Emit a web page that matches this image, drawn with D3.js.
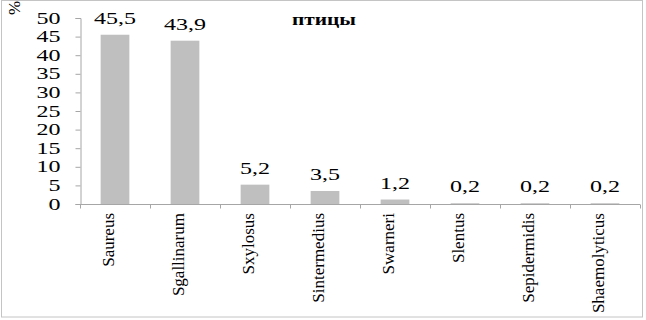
<!DOCTYPE html>
<html>
<head>
<meta charset="utf-8">
<script src="https://cdn.jsdelivr.net/npm/d3@7"></script>
<style>
    body { margin: 0; background: #fff; }
    svg text { font-family: "Liberation Serif", "Times New Roman", serif; fill: #000; }
</style>
</head>
<body>
<svg id="chart" width="646" height="320"></svg>
<script>

// Data
const categories = ['Saureus', 'Sgallinarum', 'Sxylosus', 'Sintermedius', 'Swarneri', 'Slentus', 'Sepidermidis', 'Shaemolyticus'];
const values = [45.5, 43.9, 5.2, 3.5, 1.2, 0.2, 0.2, 0.2];
const yTicks = [0, 5, 10, 15, 20, 25, 30, 35, 40, 45, 50];
const title = 'птицы';
const yLabel = '%';

const svg = d3.select('#chart');

// horizontal text in the picture is stretched sideways
const stretch = 1.5;

// Outer frame
svg.append('rect')
    .attr('x', 1.5)
    .attr('y', 0.5)
    .attr('width', 641)
    .attr('height', 316.5)
    .attr('fill', 'none')
    .attr('stroke', '#c4c4c4');

/* Scales */
let xScale = d3.scaleBand()
    .domain(categories)
    .range([80, 640]);

let yScale = d3.scaleLinear()
    .domain([0, 50])
    .range([204, 18]);

const barWidth = xScale.bandwidth() * 0.41;

/* Y axis */
const yAxis = svg.append('g')
    .attr('transform', 'translate(80.5,0)')
    .call(d3.axisLeft(yScale)
        .tickValues(yTicks)
        .tickSize(5)
        .tickFormat(d3.format('d'))
    );

yAxis.select('.domain').attr('stroke', '#a6a6a6');
yAxis.selectAll('.tick line').attr('stroke', '#a6a6a6');
yAxis.selectAll('.tick text')
    .attr('x', -20 / stretch)
    .attr('transform', `scale(${stretch},1)`)
    .style('font-size', '16px');

/* X axis */
const xAxis = svg.append('g')
    .attr('transform', 'translate(0,204.5)');

xAxis.append('line')
    .attr('x1', 80)
    .attr('x2', 640)
    .attr('stroke', '#a6a6a6');

// ticks between categories
let tickPos = categories.map(c => xScale(c)).concat([xScale.range()[1]]);
xAxis.selectAll('line.tick')
    .data(tickPos)
    .join('line')
    .attr('class', 'tick')
    .attr('x1', d => Math.round(d) + 0.5)
    .attr('x2', d => Math.round(d) + 0.5)
    .attr('y1', 0)
    .attr('y2', 4)
    .attr('stroke', '#a6a6a6');

// rotated category labels
svg.selectAll('text.cat')
    .data(categories)
    .join('text')
    .attr('class', 'cat')
    .attr('transform', d => `translate(${xScale(d) + xScale.bandwidth() / 2 - 1.5},213) rotate(-90)`)
    .attr('text-anchor', 'end')
    .style('font-size', '17px')
    .text(d => d);

/* Bars */
svg.selectAll('rect.bar')
    .data(values)
    .join('rect')
    .attr('class', 'bar')
    .attr('x', (d, i) => xScale(categories[i]) + (xScale.bandwidth() - barWidth) / 2)
    .attr('y', d => yScale(d))
    .attr('width', barWidth)
    .attr('height', d => yScale(0) - yScale(d))
    .attr('fill', '#bfbfbf');

// value labels above bars
const commaFormat = d => d3.format('.1f')(d).replace('.', ',');

svg.selectAll('text.val')
    .data(values)
    .join('text')
    .attr('class', 'val')
    .attr('transform', (d, i) => `translate(${xScale(categories[i]) + xScale.bandwidth() / 2},${yScale(d) - 11}) scale(${stretch},1)`)
    .attr('text-anchor', 'middle')
    .style('font-size', '16px')
    .text(d => commaFormat(d));

/* Title */
svg.append('text')
    .attr('x', 324)
    .attr('y', 25)
    .attr('text-anchor', 'middle')
    .attr('textLength', 64)
    .attr('lengthAdjust', 'spacingAndGlyphs')
    .style('font-size', '17px')
    .style('font-weight', 'bold')
    .text(title);

/* Y axis label, partly cut at the top */
svg.append('text')
    .attr('transform', 'translate(20,15) rotate(-90)')
    .attr('text-anchor', 'start')
    .style('font-size', '17px')
    .text(yLabel);

</script>
</body>
</html>
